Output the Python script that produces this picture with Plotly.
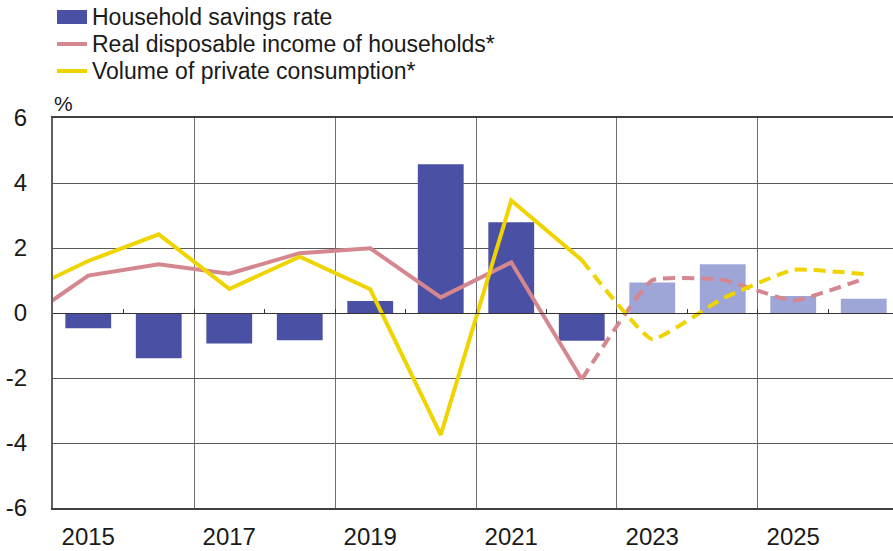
import plotly.graph_objects as go

# ---- data ----
bar_years_actual = [2015, 2016, 2017, 2018, 2019, 2020, 2021, 2022]
savings_actual = [-0.47, -1.39, -0.94, -0.84, 0.37, 4.58, 2.79, -0.85]
bar_years_fc = [2023, 2024, 2025, 2026]
savings_fc = [0.94, 1.50, 0.52, 0.44]

line_years_actual = [2014, 2015, 2016, 2017, 2018, 2019, 2020, 2021, 2022]
income_actual = [-0.35, 1.15, 1.50, 1.21, 1.84, 1.99, 0.48, 1.56, -2.04]
consumption_actual = [0.56, 1.60, 2.42, 0.74, 1.73, 0.73, -3.75, 3.46, 1.63]

line_years_fc = [2022, 2023, 2024, 2025, 2026]
income_fc = [-2.04, 1.01, 1.02, 0.38, 1.05]
consumption_fc = [1.63, -0.81, 0.45, 1.33, 1.20]

x_tickvals = [2015, 2017, 2019, 2021, 2023, 2025]
x_ticktext = ["2015", "2017", "2019", "2021", "2023", "2025"]
y_tickvals = [6, 4, 2, 0, -2, -4, -6]
y_ticktext = ["6", "4", "2", "0", "-2", "-4", "-6"]
half_years = [2014.5, 2015.5, 2016.5, 2017.5, 2018.5, 2019.5, 2020.5,
              2021.5, 2022.5, 2023.5, 2024.5, 2025.5, 2026.5]
grid_years = [2014.5, 2016.5, 2018.5, 2020.5, 2022.5, 2024.5, 2026.5]

legend_names = ["Household savings rate",
                "Real disposable income of households*",
                "Volume of private consumption*"]

DARK = "#4a50a4"
LIGHT = "#9ea5d7"
PINK = "#d4878e"
YELLOW = "#f0d400"
TEXT = "#1a1a1a"
FONT = "Liberation Sans, Arial, sans-serif"

W, H = 893, 551
ML, MR, MT, MB = 53, 0, 118, 43
PW, PH = W - ML - MR, H - MT - MB
x_range = [2014.5, 2026.415]


def px_x(px):
    return (px - ML) / PW


def px_y(py):
    return (H - MB - py) / PH


fig = go.Figure()

fig.add_trace(go.Bar(x=bar_years_actual, y=savings_actual, marker_color=DARK,
                     marker_line_width=0, width=0.65, name=legend_names[0]))
fig.add_trace(go.Bar(x=bar_years_fc, y=savings_fc, marker_color=LIGHT,
                     marker_line_width=0, width=0.65,
                     name=legend_names[0] + " (forecast)"))

fig.add_trace(go.Scatter(x=line_years_actual, y=income_actual, mode="lines",
                         name=legend_names[1], line=dict(color=PINK, width=4),
                         xaxis="x2"))
fig.add_trace(go.Scatter(x=line_years_fc, y=income_fc, mode="lines",
                         line=dict(color=PINK, width=4, dash="12px,7px",
                                   shape="spline", smoothing=0.35),
                         name=legend_names[1] + " (forecast)", xaxis="x2"))
fig.add_trace(go.Scatter(x=line_years_actual, y=consumption_actual, mode="lines",
                         name=legend_names[2], line=dict(color=YELLOW, width=4),
                         xaxis="x2"))
fig.add_trace(go.Scatter(x=line_years_fc, y=consumption_fc, mode="lines",
                         line=dict(color=YELLOW, width=4, dash="12px,7px",
                                   shape="spline", smoothing=0.35),
                         name=legend_names[2] + " (forecast)", xaxis="x2"))

# ---- hand-placed legend (swatches + labels) ----
legend_rows_py = [17, 44, 71]
shapes = [
    dict(type="rect", xref="paper", yref="paper",
         x0=px_x(57), x1=px_x(87), y0=px_y(24), y1=px_y(10),
         fillcolor=DARK, line=dict(width=0)),
    dict(type="line", xref="paper", yref="paper",
         x0=px_x(57), x1=px_x(87), y0=px_y(legend_rows_py[1]), y1=px_y(legend_rows_py[1]),
         line=dict(color=PINK, width=4)),
    dict(type="line", xref="paper", yref="paper",
         x0=px_x(57), x1=px_x(87), y0=px_y(legend_rows_py[2]), y1=px_y(legend_rows_py[2]),
         line=dict(color=YELLOW, width=4)),
]
annotations = [
    dict(text=name, xref="paper", yref="paper", x=px_x(90), y=px_y(py),
         xanchor="left", yanchor="middle", showarrow=False,
         font=dict(size=23, family=FONT, color=TEXT))
    for name, py in zip(legend_names, legend_rows_py)
]
annotations.append(dict(text="%", xref="paper", yref="paper", x=px_x(52), y=px_y(104),
                        xanchor="left", yanchor="middle", showarrow=False,
                        font=dict(size=21, family=FONT, color=TEXT)))

fig.update_layout(
    width=W, height=H,
    margin=dict(l=ML, r=MR, t=MT, b=MB, autoexpand=False),
    paper_bgcolor="white", plot_bgcolor="white",
    font=dict(family=FONT, color=TEXT, size=23),
    barmode="overlay",
    showlegend=False,
    xaxis=dict(range=x_range, tickvals=x_tickvals, ticktext=x_ticktext,
               showgrid=False, ticks="", showline=True, linecolor="#404040",
               linewidth=2, mirror=True, zeroline=False, automargin=False,
               tickfont=dict(size=24, family=FONT, color=TEXT),
               ticklabelstandoff=6,
               minor=dict(tickvals=grid_years, showgrid=True,
                          gridcolor="#707070", gridwidth=1, ticks="")),
    xaxis2=dict(range=x_range, overlaying="x", anchor="free", position=0.5,
                side="bottom", showgrid=False, showticklabels=False,
                tickvals=half_years, ticks="inside", ticklen=4, tickwidth=1,
                tickcolor="#333333", showline=True, linecolor="#333333",
                linewidth=1, zeroline=False, automargin=False),
    yaxis=dict(range=[-6, 6], tickvals=y_tickvals, ticktext=y_ticktext,
               showgrid=True, gridcolor="#5a5a5a", gridwidth=1,
               zeroline=False, showline=True, linecolor="#606060",
               linewidth=2, ticks="", automargin=False,
               tickfont=dict(size=24, family=FONT, color=TEXT),
               ticklabelstandoff=19),
    shapes=shapes,
    annotations=annotations,
)

fig.write_html("out.html",
               config={"displayModeBar": False},
               post_script="document.body.style.margin='0';"
                           "document.body.style.overflow='hidden';")
